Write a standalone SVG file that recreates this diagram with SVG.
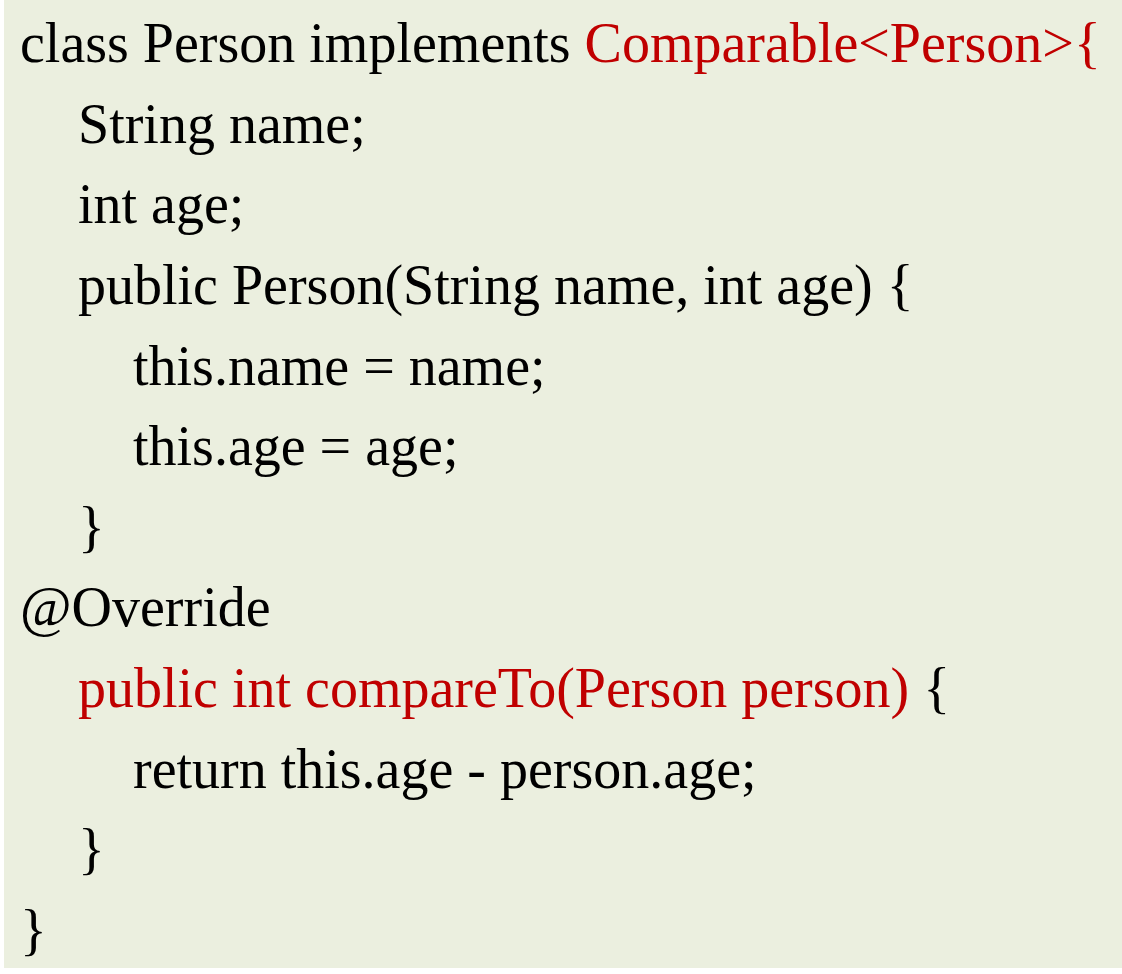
<svg xmlns="http://www.w3.org/2000/svg" width="1122" height="974" viewBox="0 0 1122 974">
<style>
text{font-family:"Liberation Serif","Times New Roman",serif;font-size:56px;fill:#000;white-space:pre}
.r{fill:#C00000}
</style>
<rect x="0" y="0" width="1122" height="974" fill="#fff"/>
<rect x="4" y="0" width="1118" height="968" fill="#EBEFDF"/>
<text x="20" y="62">class Person implements <tspan class="r">Comparable&lt;Person&gt;{</tspan></text>
<text x="78" y="143">String name;</text>
<text x="78" y="223">int age;</text>
<text x="78" y="304">public Person(String name, int age) {</text>
<text x="133" y="385">this.name = name;</text>
<text x="133" y="465">this.age = age;</text>
<text x="78" y="546">}</text>
<text x="20" y="626">@Override</text>
<text x="78" y="707"><tspan class="r">public int compareTo(Person person)</tspan> {</text>
<text x="133" y="788">return this.age - person.age;</text>
<text x="78" y="868">}</text>
<text x="20" y="949">}</text>
</svg>
